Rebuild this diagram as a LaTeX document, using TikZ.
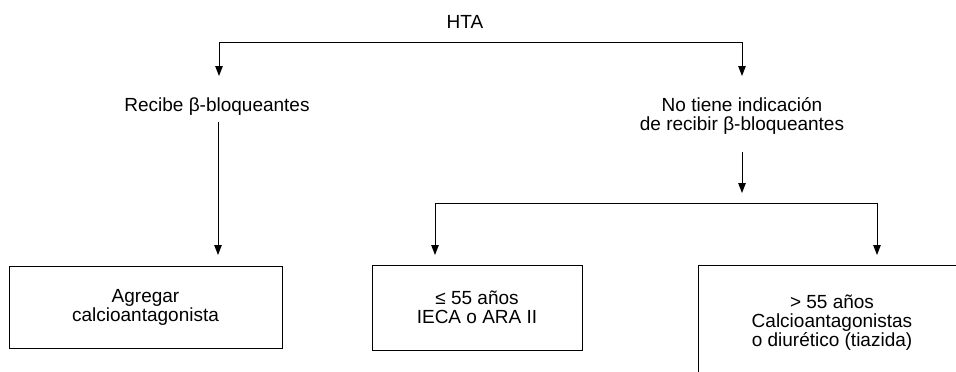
\documentclass[tikz,border=0pt]{standalone}
\usepackage{fontspec}
\setmainfont{Liberation Sans}
\usetikzlibrary{arrows.meta}
\begin{document}
\begin{tikzpicture}[x=1pt,y=-1pt,
  every node/.style={font=\fontsize{19}{19}\selectfont, inner sep=0pt, align=center},
  conn/.style={line width=1pt},
  arr/.style={line width=1pt, -{Triangle[length=10pt,width=7.5pt]}},
  boxnode/.style={draw, line width=1pt}]
\useasboundingbox (0,0) rectangle (956,372);
\clip (0,0) rectangle (956,372);
% texts
\node[anchor=base] (hta) at (465,28) {HTA};
\node[anchor=base] (recibe) at (217,111) {Recibe β-bloqueantes};
\node (notiene) at (742,115.5) {No tiene indicación\\de recibir β-bloqueantes};
% boxes
\node[boxnode, minimum width=273pt, minimum height=82pt] (agregar) at (145.5,307) {Agregar\\calcioantagonista};
\node[boxnode, minimum width=210pt, minimum height=85pt] (menor) at (477,307.5) {≤ 55 años\\IECA o ARA II};
\node[boxnode, minimum width=268pt, minimum height=111pt, text depth=0pt] (mayor) at (832,320.5) {> 55 años\\Calcioantagonistas\\o diurético (tiazida)};
% coordinates
\coordinate (hl) at (219,42);
\coordinate (hr) at (742,42);
\coordinate (hlt) at (219,76);
\coordinate (hrt) at (742,76);
\coordinate (rs) at (218,122);
\coordinate (rt) at (218,255);
\coordinate (ns) at (742,152);
\coordinate (nt) at (742,193);
\coordinate (bl) at (435,203);
\coordinate (br) at (877,203);
\coordinate (blt) at (435,255);
\coordinate (brt) at (877,255);
% connectors
\draw[conn] (hl) -- (hr);
\draw[arr] (hl) -- (hlt);
\draw[arr] (hr) -- (hrt);
\draw[arr] (rs) -- (rt);
\draw[arr] (ns) -- (nt);
\draw[conn] (bl) -- (br);
\draw[arr] (bl) -- (blt);
\draw[arr] (br) -- (brt);
\end{tikzpicture}
\end{document}
